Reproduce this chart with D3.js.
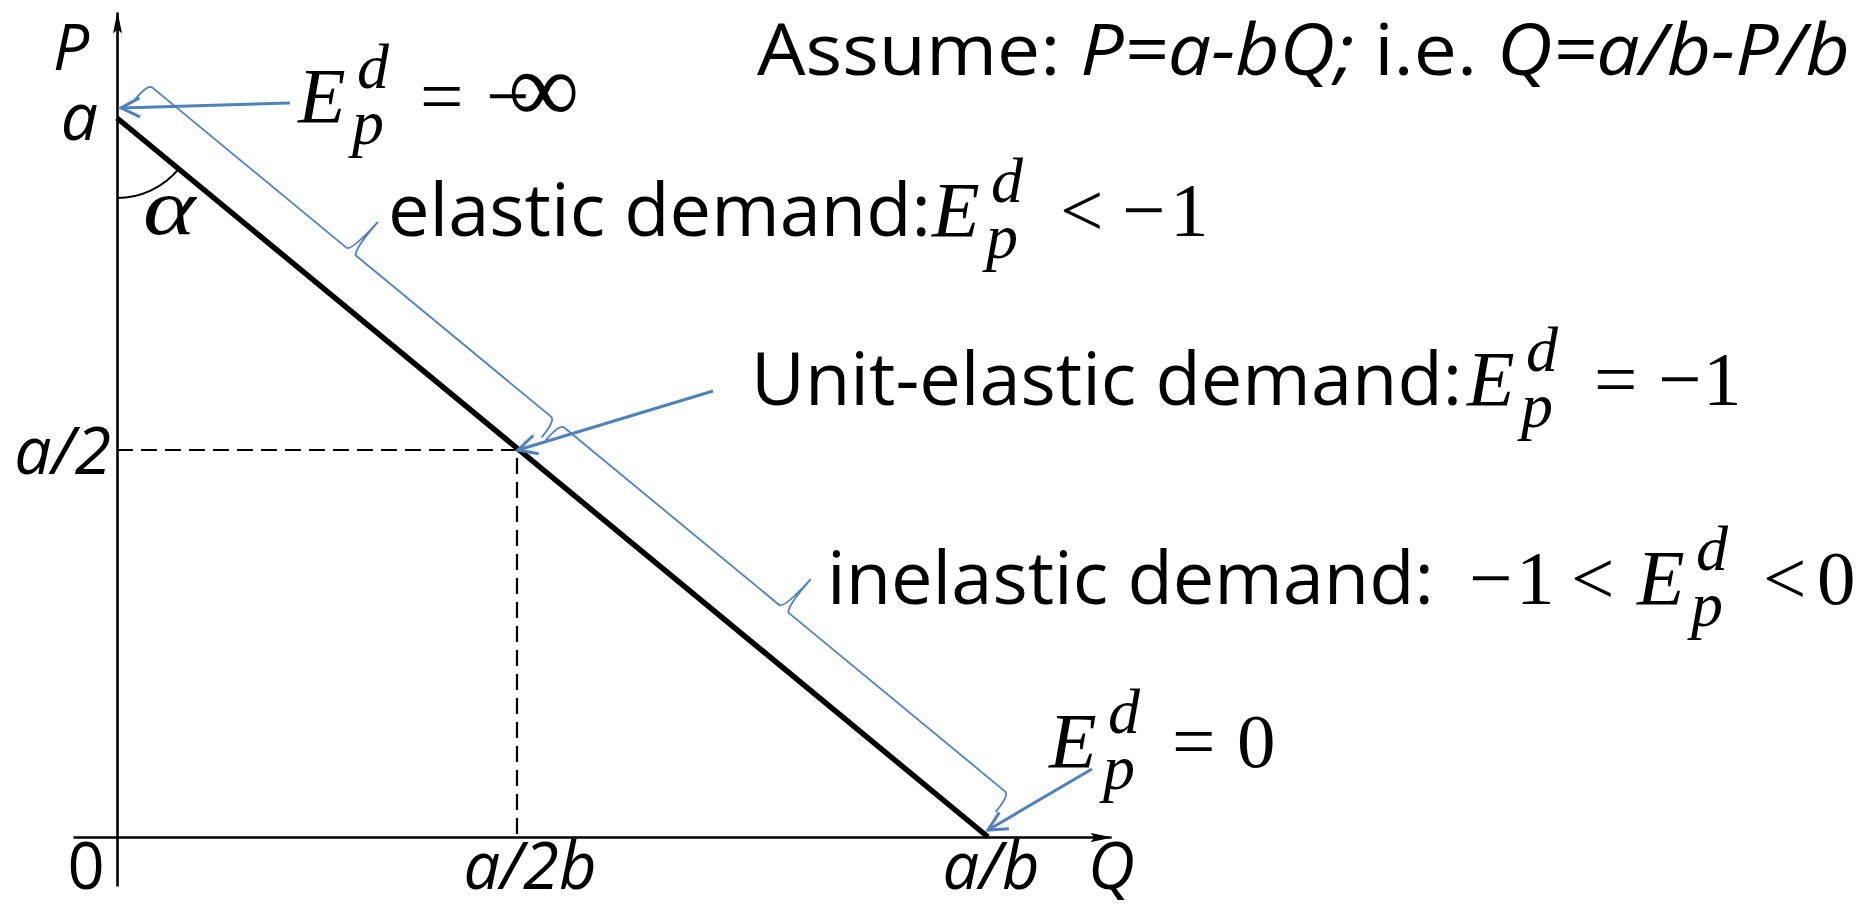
<!DOCTYPE html>
<html>
<head>
<meta charset="utf-8">
<script src="https://cdn.jsdelivr.net/npm/d3@7"></script>
<style>
  body { margin: 0; background: #fff; }
  svg text { font-family: "Open Sans", sans-serif; fill: #000; }
  svg .math { font-family: "Liberation Serif", "Times New Roman", serif; }
</style>
</head>
<body>
<script>
// values of the figure (a = b = 1, demand P = a - bQ)
var qValues = [0, 0.5, 1];
var qLabels = ["0", "a/2b", "a/b"];
var pValues = [1, 0.5];
var pLabels = ["a", "a/2"];
var demandQ = [0, 1];
var demandP = [1, 0];
var unitQ = 0.5;
var unitP = 0.5;
var braceFrom = [0, 0.5];
var braceTo = [0.5, 1];
var regionText = ["elastic demand:", "Unit-elastic demand:", "inelastic demand:"];
var arrowQ = [0, 0.5, 1];
var arrowP = [1, 0.5, 0];

var svgWidth = 1870;
var svgHeight = 909;
var blue = "#4F81BD";

var svg = d3.select("body")
  .append("svg")
  .attr("width", svgWidth)
  .attr("height", svgHeight);

// the sketch is not drawn to scale: a/2 and a/2b sit off the middle
var x = d3.scaleLinear().domain([0, 0.5, 1]).range([117, 517, 988]);
var y = d3.scaleLinear().domain([0, 0.5, 1]).range([837, 450, 118]);

var defs = svg.append("defs");
defs.append("marker")
  .attr("id", "axisHead")
  .attr("viewBox", "0 -5 22 10")
  .attr("refX", 21)
  .attr("refY", 0)
  .attr("markerWidth", 22)
  .attr("markerHeight", 10)
  .attr("markerUnits", "userSpaceOnUse")
  .attr("orient", "auto")
  .append("path")
  .attr("d", "M0,-4.5L22,0L0,4.5L4,0Z")
  .attr("fill", "#000");

// axes without ticks, drawn a little past the data range
var xAxisScale = d3.scaleLinear().domain([-0.05, 1.14]).range([73, 1111]);
var yAxisScale = d3.scaleLinear().domain([-0.068, 1.147]).range([886, 12]);

var xAxis = svg.append("g")
  .attr("transform", `translate(0, ${y(0)})`)
  .call(d3.axisBottom(xAxisScale).tickValues([]).tickSizeOuter(0));
var yAxis = svg.append("g")
  .attr("transform", `translate(${x(0)}, 0)`)
  .call(d3.axisLeft(yAxisScale).tickValues([]).tickSizeOuter(0));

[xAxis, yAxis].forEach(function(ax) {
  ax.select(".domain")
    .attr("stroke", "#000")
    .attr("stroke-width", 2.6)
    .attr("marker-end", "url(#axisHead)");
});

// dashed guides to the unit-elastic point
svg.append("path")
  .attr("d", d3.line()([[x(0), y(unitP)], [x(unitQ), y(unitP)], [x(unitQ), y(0)]]))
  .attr("fill", "none")
  .attr("stroke", "#000")
  .attr("stroke-width", 2.2)
  .attr("stroke-dasharray", "16,8");

// demand line
var demand = demandQ.map(function(q, i) { return {q: q, p: demandP[i]}; });
svg.append("path")
  .datum(demand)
  .attr("d", d3.line().x(d => x(d.q)).y(d => y(d.p)))
  .attr("fill", "none")
  .attr("stroke", "#000")
  .attr("stroke-width", 5.5);

// angle alpha
var x0 = x(0), y0 = y(1);
var ang = Math.atan2(y(0) - y(1), x(1) - x(0));
var arc = d3.path();
arc.arc(x0, y0, 80, ang, Math.PI / 2);
svg.append("path")
  .attr("d", arc.toString())
  .attr("fill", "none")
  .attr("stroke", "#000")
  .attr("stroke-width", 2);
svg.append("text")
  .attr("class", "math")
  .attr("x", 143)
  .attr("y", 234)
  .attr("font-size", 80)
  .attr("font-style", "italic")
  .attr("transform", "translate(143,0) scale(1.25,1) translate(-143,0)")
  .text("\u03b1");

// axis labels
svg.selectAll(".plab")
  .data(pValues)
  .enter()
  .append("text")
  .attr("class", "plab")
  .attr("x", (d, i) => i === 0 ? 98 : 111)
  .attr("y", (d, i) => y(d) + (i === 0 ? 22 : 24))
  .attr("text-anchor", "end")
  .attr("font-size", 66)
  .attr("font-style", "italic")
  .text((d, i) => pLabels[i]);

svg.selectAll(".qlab")
  .data(qValues)
  .enter()
  .append("text")
  .attr("class", "qlab")
  .attr("x", (d, i) => x(d) + [-31, 13, 3][i])
  .attr("y", 889)
  .attr("text-anchor", "middle")
  .attr("font-size", 65)
  .attr("font-style", (d, i) => i === 0 ? "normal" : "italic")
  .text((d, i) => qLabels[i]);

svg.append("text")
  .attr("x", 53)
  .attr("y", 70)
  .attr("font-size", 64)
  .attr("font-style", "italic")
  .text("P");
svg.append("text")
  .attr("x", 1088)
  .attr("y", 889)
  .attr("font-size", 65)
  .attr("font-style", "italic")
  .text("Q");

// braces along the demand line
var dx = x(1) - x(0), dy = y(0) - y(1);
var len = Math.sqrt(dx * dx + dy * dy);
var u = [dx / len, dy / len];
var n = [u[1], -u[0]];
function pt(s, v) {
  return [x0 + u[0] * s + n[0] * v, y0 + u[1] * s + n[1] * v];
}
function along(q) {
  // distance of the point at quantity q from the top of the line
  return (x(q) - x0) * u[0] + (y(1 - q) - y0) * u[1];
}
var braceInset = [[2, 11], [16, -10]];
var off = 46, tipLen = 40, hook = 22;
braceFrom.forEach(function(t0, i) {
  var s0 = along(t0) + braceInset[i][0];
  var s1 = along(braceTo[i]) + braceInset[i][1];
  var sm = (s0 + s1) / 2;
  var p = d3.path();
  var a = pt(s0, off - hook);
  p.moveTo(a[0], a[1]);
  var c = pt(s0, off), e = pt(s0 + 6, off);
  p.quadraticCurveTo(c[0], c[1], e[0], e[1]);
  e = pt(sm - 7, off); p.lineTo(e[0], e[1]);
  c = pt(sm - 1, off); e = pt(sm + 1, off + tipLen);
  p.quadraticCurveTo(c[0], c[1], e[0], e[1]);
  c = pt(sm, off + 5); e = pt(sm + 5, off);
  p.quadraticCurveTo(c[0], c[1], e[0], e[1]);
  e = pt(s1 - 6, off); p.lineTo(e[0], e[1]);
  c = pt(s1, off); e = pt(s1, off - hook);
  p.quadraticCurveTo(c[0], c[1], e[0], e[1]);
  svg.append("path")
    .attr("d", p.toString())
    .attr("fill", "none")
    .attr("stroke", blue)
    .attr("stroke-width", 1.8);
});

// pointer arrows from the elasticity labels
var arrowStart = [[290, 103], [713, 391], [1092, 769]];
var tipShift = [[4, -10], [1, 0], [0, -7]];
arrowQ.forEach(function(q, i) {
  var tx = x(q) + tipShift[i][0], ty = y(arrowP[i]) + tipShift[i][1];
  var sx = arrowStart[i][0], sy = arrowStart[i][1];
  var a = Math.atan2(sy - ty, sx - tx);
  var w = 0.47, hl = 21;
  svg.append("path")
    .attr("d", d3.line()([[sx, sy], [tx, ty]]))
    .attr("stroke", blue)
    .attr("stroke-width", 3)
    .attr("fill", "none");
  svg.append("path")
    .attr("d", d3.line()([
      [tx + hl * Math.cos(a + w), ty + hl * Math.sin(a + w)],
      [tx, ty],
      [tx + hl * Math.cos(a - w), ty + hl * Math.sin(a - w)]
    ]))
    .attr("stroke", blue)
    .attr("stroke-width", 3)
    .attr("fill", "none");
});

// title
var title = svg.append("text")
  .attr("x", 757)
  .attr("y", 75)
  .attr("font-size", 71);
title.append("tspan").text("Assume: ");
title.append("tspan").attr("font-style", "italic").text("P=a-bQ;");
title.append("tspan").text(" i.e. ");
title.append("tspan").attr("font-style", "italic").text("Q=a/b-P/b");
var tb = title.node().getBBox();
title.attr("transform", `translate(757,0) scale(${(1850 - 757) / tb.width},1) translate(${-tb.x},0)`);

// one text per formula line: optional words, then E with sub/superscript and the relation
function formula(label, lx, base, parts) {
  var t = svg.append("text").attr("y", base).attr("font-size", 74);
  if (label) t.append("tspan").attr("x", lx).attr("y", base).text(label);
  parts.forEach(function(pp) {
    var s = t.append("tspan")
      .attr("class", "math")
      .attr("x", pp[1])
      .attr("y", base + (pp[3] || 0))
      .attr("font-size", pp[2])
      .text(pp[0]);
    if (pp[4]) s.attr("font-style", "italic");
  });
}
function eParts(ex) {
  return [["E", ex, 78, 0, 1], ["d", ex + 59, 64, -34, 1], ["p", ex + 54, 64, 22, 1]];
}

formula(null, 0, 122, eParts(298).concat([
  ["=", 420, 77], ["\u2212", 486, 77], ["\u221e", 508, 100]
]));
formula(regionText[0], 388, 236, eParts(932).concat([
  ["<", 1060, 77], ["\u2212", 1122, 77], ["1", 1170, 77]
]));
formula(regionText[1], 751, 405, eParts(1467).concat([
  ["=", 1594, 77], ["\u2212", 1658, 77], ["1", 1703, 77]
]));
formula(regionText[2], 827, 604, [
  ["\u2212", 1469, 77], ["1", 1516, 77], ["<", 1571, 77]
].concat(eParts(1637)).concat([
  ["<", 1763, 77], ["0", 1817, 77]
]));
formula(null, 0, 767, eParts(1049).concat([
  ["=", 1172, 77], ["0", 1237, 77]
]));
</script>
</body>
</html>
